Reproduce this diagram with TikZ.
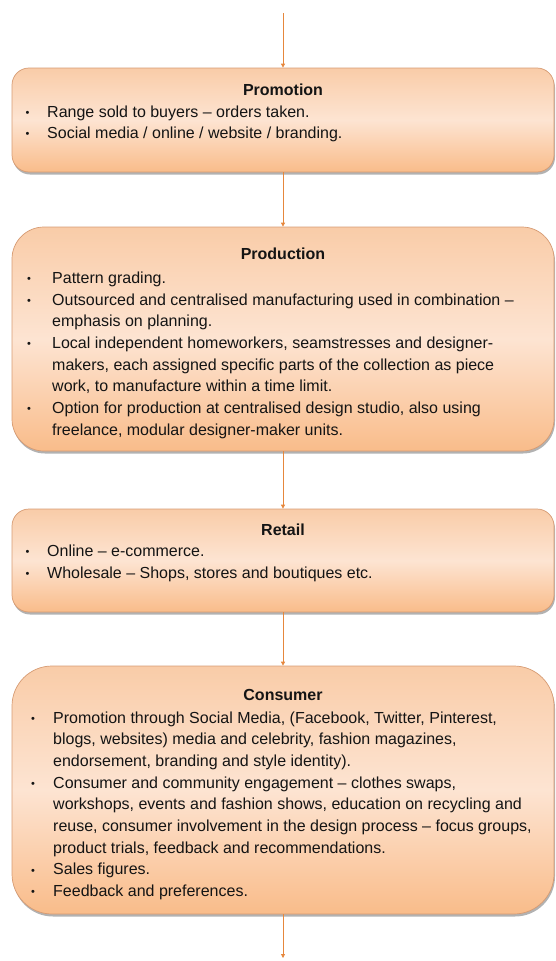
\documentclass[tikz,border=0pt]{standalone}
\usepackage{fontspec}
\setmainfont{Liberation Sans}
\usetikzlibrary{shadows,arrows.meta}
\definecolor{boxtop}{RGB}{249,204,168}
\definecolor{boxmid}{RGB}{253,228,210}
\definecolor{boxbot}{RGB}{249,188,138}
\definecolor{boxline}{RGB}{214,155,115}
\definecolor{arrowc}{RGB}{230,135,60}
\definecolor{txt}{RGB}{20,20,20}
\newcommand\smallbul{\raisebox{0.8pt}{\fontsize{11}{11}\selectfont •}}
\tikzset{
  stagebox/.style={rounded corners=#1, draw=boxline, line width=0.7pt,
    top color=boxtop, bottom color=boxbot, middle color=boxmid,
    drop shadow={shadow xshift=1pt, shadow yshift=-2.5pt, fill=black, opacity=0.3},
    minimum width=542pt, inner sep=0pt},
  ttl/.style={anchor=base, font=\fontsize{16}{19}\selectfont\bfseries, text=txt, inner sep=0pt},
  body/.style={anchor=base west, font=\fontsize{16}{21.7}\selectfont, text=txt, inner sep=0pt},
  flow/.style={draw=arrowc, line width=0.8pt, -{Triangle[length=4pt,width=4pt]}}
}
\begin{document}
\begin{tikzpicture}[x=1pt,y=-1pt]
\useasboundingbox (0,0) rectangle (555,961);
% boxes
\node[stagebox=17pt, minimum height=104pt] (prom) at (283,120) {};
\node[stagebox=32pt, minimum height=224pt] (prod) at (283,339) {};
\node[stagebox=17pt, minimum height=103pt] (ret) at (283,560.5) {};
\node[stagebox=40pt, minimum height=248pt] (cons) at (283,790) {};
% titles
\node[ttl] (promT) at (283,95) {Promotion};
\node[ttl] (prodT) at (283,259) {Production};
\node[ttl] (retT) at (283,535) {Retail};
\node[ttl] (consT) at (283,700) {Consumer};
% bodies
\node[body] (promB) at (25.5,117) {\begin{tabular}[t]{@{}p{21.5pt}@{}l@{}}
\smallbul& Range sold to buyers – orders taken.\\
\smallbul& Social media / online / website / branding.
\end{tabular}};
\node[body] (prodB) at (27,283.3) {\begin{tabular}[t]{@{}p{25pt}@{}l@{}}
\smallbul& Pattern grading.\\
\smallbul& Outsourced and centralised manufacturing used in combination –\\
 & emphasis on planning.\\
\smallbul& Local independent homeworkers, seamstresses and designer-\\
 & makers, each assigned specific parts of the collection as piece\\
 & work, to manufacture within a time limit.\\
\smallbul& Option for production at centralised design studio, also using\\
 & freelance, modular designer-maker units.
\end{tabular}};
\node[body] (retB) at (25.5,556.7) {\begin{tabular}[t]{@{}p{21.5pt}@{}l@{}}
\smallbul& Online – e-commerce.\\
\smallbul& Wholesale – Shops, stores and boutiques etc.
\end{tabular}};
\node[body] (consB) at (31,723) {\begin{tabular}[t]{@{}p{22pt}@{}l@{}}
\smallbul& Promotion through Social Media, (Facebook, Twitter, Pinterest,\\
 & blogs, websites) media and celebrity, fashion magazines,\\
 & endorsement, branding and style identity).\\
\smallbul& Consumer and community engagement – clothes swaps,\\
 & workshops, events and fashion shows, education on recycling and\\
 & reuse, consumer involvement in the design process – focus groups,\\
 & product trials, feedback and recommendations.\\
\smallbul& Sales figures.\\
\smallbul& Feedback and preferences.
\end{tabular}};
% connectors
\coordinate (start) at (283,13);
\coordinate (finish) at (283,958);
\draw[flow] (start) -- (prom.north);
\draw[flow] (prom.south) -- (prod.north);
\draw[flow] (prod.south) -- (ret.north);
\draw[flow] (ret.south) -- (cons.north);
\draw[flow] (cons.south) -- (finish);
\end{tikzpicture}
\end{document}
